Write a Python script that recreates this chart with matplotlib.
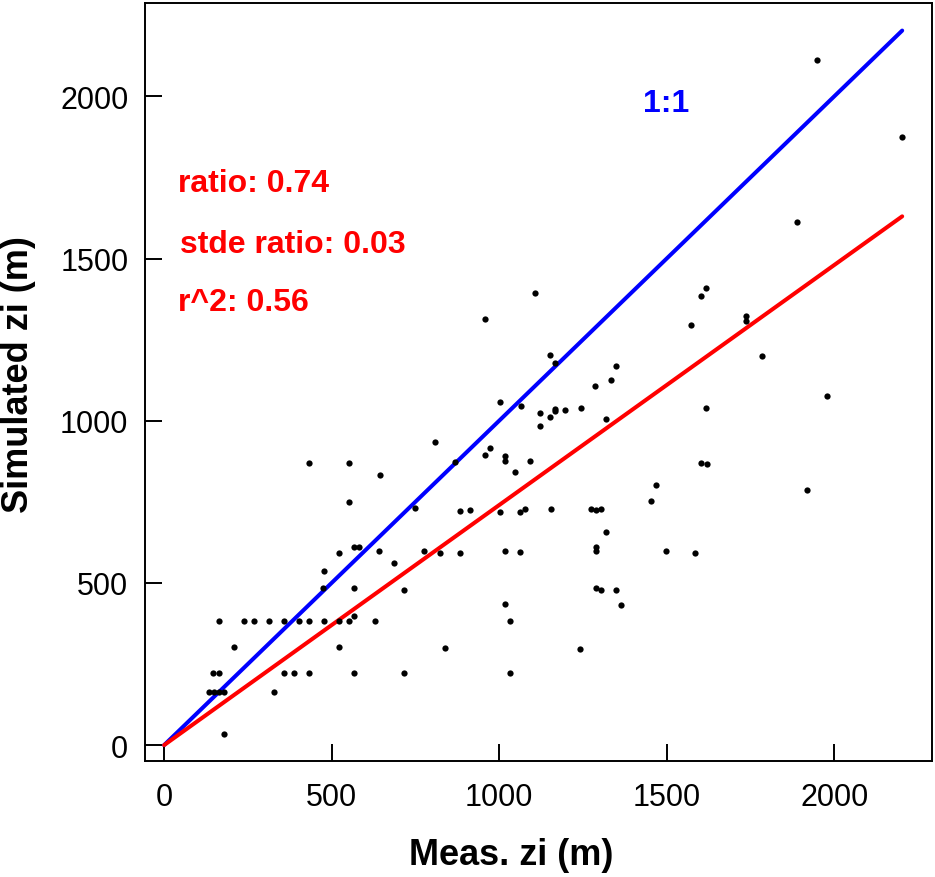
import numpy as np
import matplotlib
matplotlib.use('Agg')
import matplotlib.pyplot as plt
from matplotlib import font_manager

meas = [553, 749, 523, 568, 582, 642, 777, 824, 687, 477, 473, 568, 717,
        164, 238, 268, 313, 357, 403, 433, 477, 523, 553, 629, 568,
        208, 523,
        147, 163, 357, 388, 433, 568, 717,
        133, 148, 163, 178, 327, 178,
        808, 973, 958, 1018, 1018, 1093, 1048, 867,
        883, 913, 1003, 1062, 1077, 1154, 1273, 1288, 1303,
        1318, 1288, 1288, 1497, 1586, 883, 1018, 1063,
        1288, 1303, 1348, 1363, 1018, 1032, 838, 1242, 1032,
        1979, 1618, 1602, 1620, 1468, 1454, 1918,
        1948, 2203, 1888, 1618, 1602, 1573, 1737, 1737, 1784,
        1108, 959, 1153, 1167, 1348, 1333, 1287,
        1004, 1064, 1123, 1153, 1168, 1168, 1198, 1244, 1318, 1123,
        645, 433, 553]
sim = [749, 730, 592, 612, 612, 598, 598, 592, 561, 538, 484, 484, 479,
       382, 382, 382, 382, 382, 382, 382, 382, 382, 382, 382, 397,
       303, 303,
       223, 223, 223, 223, 223, 223, 223,
       163, 163, 163, 163, 163, 35,
       935, 915, 894, 892, 877, 875, 841, 874,
       721, 726, 718, 720, 728, 728, 729, 724, 729,
       658, 612, 598, 598, 592, 592, 598, 596,
       485, 479, 479, 433, 435, 382, 299, 296, 222,
       1075, 1038, 870, 866, 803, 754, 787,
       2113, 1876, 1614, 1408, 1384, 1296, 1322, 1308, 1200,
       1395, 1314, 1203, 1177, 1169, 1127, 1108,
       1057, 1046, 1024, 1011, 1036, 1029, 1033, 1038, 1006, 983,
       833, 870, 870]

ratio = 0.74
stde_ratio = 0.03
r2 = 0.56
ticks = [0, 500, 1000, 1500, 2000]

names = {f.name for f in font_manager.fontManager.ttflist}
narrow = 'Liberation Sans Narrow' if 'Liberation Sans Narrow' in names else 'Liberation Sans'
plt.rcParams['font.family'] = ['Liberation Sans', 'DejaVu Sans']

fig = plt.figure(figsize=(9.35, 8.78), dpi=100)
ax = fig.add_axes([145/935, 1-762/878, 787/935, 758/878])

xl = np.array([0, max(meas)])
ax.plot(xl, xl, color='#0000ff', lw=2.9, solid_capstyle='round')
ax.plot(xl, ratio*xl, color='#ff0000', lw=2.9, solid_capstyle='round')
ax.plot(meas, sim, 'o', color='black', ms=4.5, mec='none')

ax.set_xlim(-57, 2292)
ax.set_ylim(-49, 2288)
ax.set_xticks(ticks)
ax.set_yticks(ticks)
ax.tick_params(direction='in', length=12, width=1.4, pad=12)
ax.tick_params(axis='x', pad=15)
for lab in ax.get_yticklabels():
    lab.set_fontsize(22)
for lab in ax.get_xticklabels():
    lab.set_fontsize(22)
    lab.set_family(narrow)
for s in ax.spines.values():
    s.set_linewidth(1.4)

# annotations
ax.text(42, 1709, 'ratio: %.2f' % ratio, color='#ff0000', fontsize=23, fontweight='bold', va='baseline')
ax.text(48, 1521, 'stde ratio: %.2f' % stde_ratio, color='#ff0000', fontsize=23, fontweight='bold', va='baseline')
ax.text(42, 1342, 'r^2: %.2f' % r2, color='#ff0000', fontsize=23, fontweight='bold', va='baseline')
ax.text(1429, 1956, '1:1', color='#0000ff', fontsize=23, fontweight='bold', va='baseline')

fig.text(19/935, 1-375/878, 'Simulated zi (m)', rotation=90, fontsize=26, fontweight='bold',
         ha='center', va='center')
fig.text(511/935, 1-856/878, 'Meas. zi (m)', fontsize=30 if narrow != 'Liberation Sans' else 26,
         fontweight='bold', family=narrow, ha='center', va='center')

fig.savefig('out.png', dpi=100)
